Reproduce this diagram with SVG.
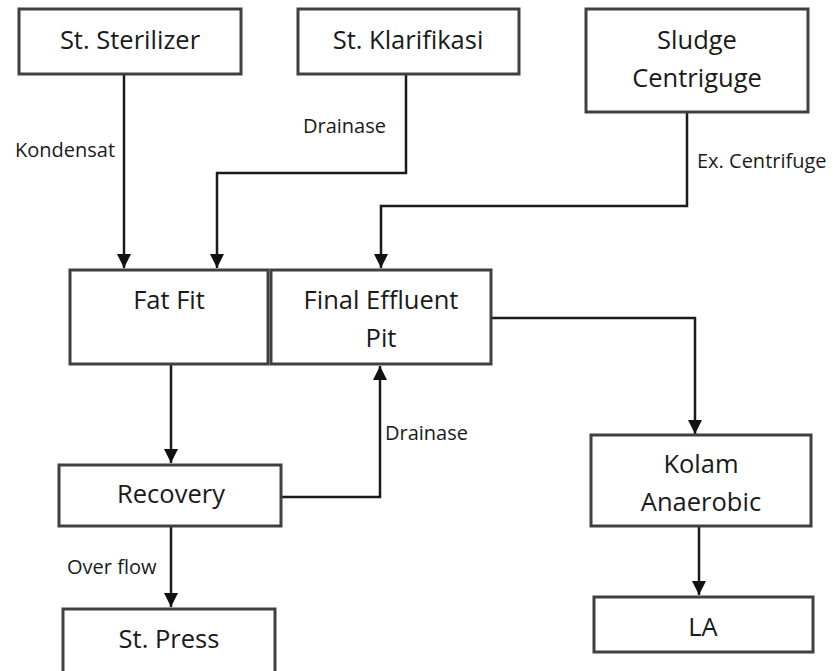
<svg xmlns="http://www.w3.org/2000/svg" width="835" height="671" viewBox="0 0 835 671">
<style>
.box{fill:#fff;stroke:#404040;stroke-width:3}
.t{font-family:"Open Sans",Lato,sans-serif;font-size:25.5px;fill:#1a1a1a;text-anchor:middle}
.l{font-family:"Open Sans",Lato,sans-serif;font-size:20px;fill:#1a1a1a}
.c{fill:none;stroke:#1a1a1a;stroke-width:2.5}
</style>
<defs>
<marker id="ah" markerWidth="15" markerHeight="14" refX="14" refY="7" orient="auto" markerUnits="userSpaceOnUse">
<path d="M0,0 L14,7 L0,14 Z" fill="#111"/>
</marker>
</defs>
<rect width="835" height="671" fill="#fff"/>
<g id="connectors">
<path class="c" d="M124,74 V268" marker-end="url(#ah)"/>
<path class="c" d="M406,74 V173 H217 V268" marker-end="url(#ah)"/>
<path class="c" d="M687,112 V206 H381 V268" marker-end="url(#ah)"/>
<path class="c" d="M171,364 V463" marker-end="url(#ah)"/>
<path class="c" d="M281,497 H380 V366" marker-end="url(#ah)"/>
<path class="c" d="M171,526 V607" marker-end="url(#ah)"/>
<path class="c" d="M491,318 H695 V434" marker-end="url(#ah)"/>
<path class="c" d="M699,526 V595" marker-end="url(#ah)"/>
<text class="l" x="15" y="157">Kondensat</text>
<text class="l" x="303" y="133">Drainase</text>
<text class="l" x="697" y="168">Ex. Centrifuge</text>
<text class="l" x="385" y="440">Drainase</text>
<text class="l" x="67" y="574">Over flow</text>
</g>
<g id="sterilizer"><rect class="box" x="19" y="9" width="222" height="65"/><text class="t" x="130" y="49">St. Sterilizer</text></g>
<g id="klarifikasi"><rect class="box" x="298" y="9" width="221" height="65"/><text class="t" x="408" y="49">St. Klarifikasi</text></g>
<g id="sludge"><rect class="box" x="586" y="9" width="222" height="103"/><text class="t" x="697" y="49">Sludge</text><text class="t" x="697" y="87">Centriguge</text></g>
<g id="fatfit"><rect class="box" x="70" y="270" width="198" height="94"/><text class="t" x="169" y="309">Fat Fit</text></g>
<g id="finaleffluent"><rect class="box" x="271" y="270" width="220" height="94"/><text class="t" x="381" y="309">Final Effluent</text><text class="t" x="381" y="347">Pit</text></g>
<g id="recovery"><rect class="box" x="59" y="465" width="222" height="61"/><text class="t" x="171" y="503">Recovery</text></g>
<g id="press"><rect class="box" x="63" y="609" width="212" height="80"/><text class="t" x="169" y="648">St. Press</text></g>
<g id="kolam"><rect class="box" x="591" y="435" width="220" height="91"/><text class="t" x="701" y="473">Kolam</text><text class="t" x="701" y="511">Anaerobic</text></g>
<g id="la"><rect class="box" x="594" y="597" width="219" height="55"/><text class="t" x="703" y="636">LA</text></g>
</svg>
